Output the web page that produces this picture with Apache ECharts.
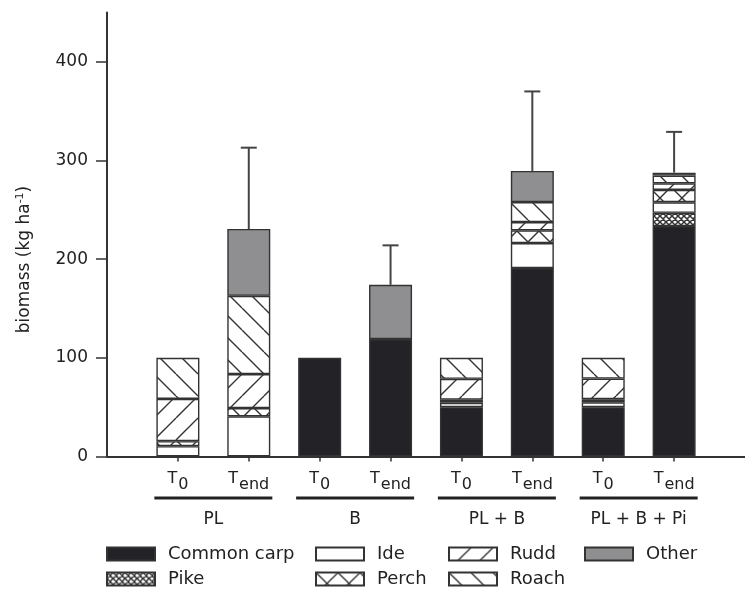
<!DOCTYPE html>
<html><head><meta charset="utf-8">
<script src="https://cdn.jsdelivr.net/npm/echarts@6/dist/echarts.min.js"></script>
<style>html,body{margin:0;padding:0;background:#fff}#c{width:745px;height:592px}</style>
</head><body><div id="c"></div>
<script>
// ---- data ----
var groups = ['PL', 'B', 'PL + B', 'PL + B + Pi'];
var categories = ['PL|T0', 'PL|Tend', 'B|T0', 'B|Tend', 'PL + B|T0', 'PL + B|Tend', 'PL + B + Pi|T0', 'PL + B + Pi|Tend'];
var commonCarp = [null, null, 100, 119, 50, 191, 50, 233.5];
var pike       = [null, null, null, null, null, null, null, 13.5];
var ide        = [10.5, 40.7, null, null, 4.5, 25.3, 5, 10.7];
var perch      = [5, 8.4, null, null, 3, 12.9, 3, 12.5];
var rudd       = [42.9, 34.4, null, null, 21.2, 8.4, 21, 6.7];
var roach      = [41.6, 79.3, null, null, 21.3, 20.3, 21, 7.8];
var other      = [null, 67.8, null, 55, null, 31.5, null, 3];
var errorUpper = [null, 313, null, 214, null, 370, null, 329];
var yTicks = [0, 100, 200, 300, 400];

// ---- patterns ----
var FONT = 'DejaVu Sans';
var INK = '#333333';
function makePattern(kind) {
  var s = kind === 'pike' ? 6 : 22;
  var c = document.createElement('canvas');
  c.width = s; c.height = s;
  var ctx = c.getContext('2d');
  ctx.fillStyle = '#ffffff';
  ctx.fillRect(0, 0, s, s);
  ctx.strokeStyle = INK;
  ctx.lineWidth = kind === 'pike' ? 1.5 : 1.4;
  ctx.beginPath();
  for (var k = -1; k <= 1; k++) {
    if (kind === 'rudd' || kind === 'perch' || kind === 'pike') {
      ctx.moveTo(k * s, s); ctx.lineTo(k * s + s, 0);
    }
    if (kind === 'roach' || kind === 'perch' || kind === 'pike') {
      ctx.moveTo(k * s, 0); ctx.lineTo(k * s + s, s);
    }
  }
  ctx.stroke();
  return { image: c, repeat: 'repeat' };
}

function pad(arr) { return [null].concat(arr, [null]); }
var xData = ['pad0'].concat(categories, ['pad9']);
var gData = [];
for (var k = 0; k < 19; k++) {
  if (k % 4 === 3 && k < 18) gData.push(groups[(k - 3) / 4]); else gData.push('h' + k);
}

var seriesDefs = [
  ['Common carp', commonCarp, '#232226'],
  ['Pike', pike, makePattern('pike')],
  ['Ide', ide, '#ffffff'],
  ['Perch', perch, makePattern('perch')],
  ['Rudd', rudd, makePattern('rudd')],
  ['Roach', roach, makePattern('roach')],
  ['Other', other, '#8f8f91']
];
var series = seriesDefs.map(function (d) {
  return {
    name: d[0], type: 'bar', stack: 'total', barWidth: 43,
    xAxisIndex: 0, yAxisIndex: 0,
    data: pad(d[1]),
    itemStyle: { color: d[2], borderColor: INK, borderWidth: 1.4 },
    emphasis: { disabled: true }
  };
});

var errData = [];
errorUpper.forEach(function (hi, i) {
  if (hi == null) return;
  var lo = 0;
  seriesDefs.forEach(function (d) { if (d[1][i] != null) lo += d[1][i]; });
  errData.push([i + 1, lo, hi]);
});
series.push({
  type: 'custom', xAxisIndex: 0, yAxisIndex: 0, z: 5,
  data: errData,
  renderItem: function (params, api) {
    var p0 = api.coord([api.value(0), api.value(1)]);
    var p1 = api.coord([api.value(0), api.value(2)]);
    var hw = 8;
    return { type: 'group', children: [
      { type: 'line', shape: { x1: p0[0], y1: p0[1], x2: p1[0], y2: p1[1] }, style: { stroke: '#444', lineWidth: 2 } },
      { type: 'line', shape: { x1: p1[0] - hw, y1: p1[1], x2: p1[0] + hw, y2: p1[1] }, style: { stroke: '#444', lineWidth: 2 } }
    ] };
  }
});

function legendAt(names, left) {
  return {
    data: names, orient: 'vertical', left: left, top: 545, padding: 0,
    itemWidth: 48, itemHeight: 13, itemGap: 7, icon: 'rect',
    selectedMode: false,
    textStyle: { fontFamily: FONT, fontSize: 18, color: '#222', padding: [0, 0, 0, 8] }
  };
}

var option = {
  animation: false,
  backgroundColor: '#ffffff',
  grid: { left: 107, top: 12.5, width: 642.6, height: 444, containLabel: false },
  legend: [
    legendAt(['Common carp', 'Pike'], 106),
    legendAt(['Ide', 'Perch'], 315),
    legendAt(['Rudd', 'Roach'], 448),
    legendAt(['Other'], 584)
  ],
  xAxis: [{
    type: 'category', data: xData, boundaryGap: false,
    axisLine: { lineStyle: { color: INK, width: 2 } },
    axisTick: { length: 5, lineStyle: { color: INK, width: 1.5 },
      interval: function (i) { return i > 0 && i < xData.length - 1; } },
    axisLabel: {
      margin: 8,
      interval: function (i) { return i > 0 && i < xData.length - 1; },
      formatter: function (v) {
        if (v.indexOf('|') < 0) return '';
        var t = v.split('|')[1];
        return '{t|T}{s|' + (t === 'T0' ? '0' : 'end') + '}';
      },
      rich: {
        t: { fontFamily: FONT, fontSize: 16, color: '#222' },
        s: { fontFamily: FONT, fontSize: 16, color: '#222', padding: [12, 0, 0, 1] }
      }
    },
    splitLine: { show: false }
  }, {
    type: 'category', data: gData, boundaryGap: false, position: 'bottom', gridIndex: 0,
    axisLine: { show: false }, axisTick: { show: false },
    axisLabel: {
      margin: 40,
      interval: function (i) { return i % 4 === 3 && i < 18; },
      formatter: function (v) { return '{line|}\n{g|' + v + '}'; },
      rich: {
        line: { width: 118, height: 3, backgroundColor: '#222' },
        g: { fontFamily: FONT, fontSize: 17, color: '#222', padding: [12, 0, 0, 0] }
      }
    },
    splitLine: { show: false }
  }],
  yAxis: {
    type: 'value', min: 0, max: 450, interval: 50,
    name: '{a|biomass (kg ha}{sup|-1}{a|)}',
    nameLocation: 'middle', nameRotate: 90, nameGap: 72,
    nameTextStyle: {
      padding: [0, 50, 0, 0],
      rich: {
        a: { fontFamily: FONT, fontSize: 17, color: '#222' },
        sup: { fontFamily: FONT, fontSize: 11, color: '#222', padding: [0, 0, 9, 0] }
      }
    },
    axisLine: { show: true, lineStyle: { color: INK, width: 2 } },
    axisTick: { show: true, length: 11, lineStyle: { color: INK, width: 1.5 }, customValues: yTicks },
    axisLabel: { margin: 19, fontFamily: FONT, fontSize: 17, color: '#222', customValues: yTicks },
    splitLine: { show: false }
  },
  series: series
};

var chart = echarts.init(document.getElementById('c'), null, { renderer: 'canvas' });
chart.setOption(option);
</script>
</body></html>
